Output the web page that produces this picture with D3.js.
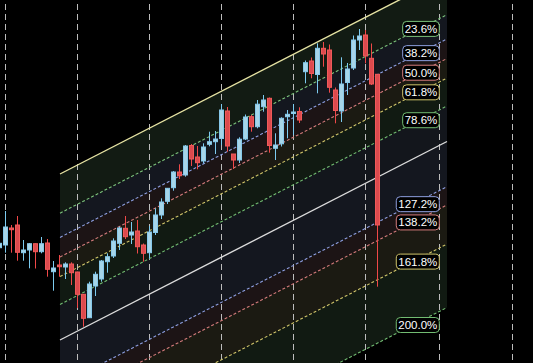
<!DOCTYPE html>
<html>
<head>
<meta charset="utf-8">
<script src="https://cdn.jsdelivr.net/npm/d3@7"></script>
<style>
  html, body { margin: 0; padding: 0; background: #000; overflow: hidden; }
  svg { display: block; }
</style>
</head>
<body>
<svg id="chart"></svg>
<script>
// candle prices, one entry per bar (oldest first)
const opens  = [111.53,111.80,113.50,113.80,111.03,111.30,111.93,111.13,112.00,109.13,109.80,109.60,109.90,109.10,106.87,104.53,
                107.70,108.40,110.13,110.70,111.97,113.47,112.80,113.20,111.80,111.03,113.05,114.80,116.17,117.53,119.10,118.80,
                121.75,120.60,120.20,121.87,122.13,122.45,125.20,120.90,120.30,122.40,124.63,123.63,125.63,126.47,121.47,121.92,
                124.63,124.95,125.15,129.13,130.20,128.85,131.47,131.30,127.30,125.20,128.05,129.50,132.30,132.80,130.47,128.87]
const highs  = [112.00,115.20,113.80,114.70,112.30,112.00,111.95,112.60,112.40,110.20,110.80,110.07,110.07,109.13,106.90,108.13,
                109.13,110.30,110.97,112.47,113.63,114.70,114.10,114.30,111.95,113.70,115.47,116.47,117.50,119.20,119.87,121.80,
                121.90,121.70,121.97,123.13,123.20,125.90,125.60,120.90,122.57,124.85,124.80,126.30,126.80,126.55,122.97,124.57,
                125.30,125.90,125.57,130.25,130.55,131.97,132.10,131.85,127.55,130.57,130.00,132.75,133.40,133.30,131.95,128.90]
const lows   = [111.50,111.03,111.03,110.23,110.23,109.47,109.45,110.97,108.63,107.23,108.63,108.40,107.80,105.50,103.63,104.50,
                106.70,108.13,109.03,110.50,111.30,112.40,111.90,110.95,110.13,110.45,112.80,114.40,115.90,117.23,118.40,118.63,
                119.70,119.37,119.97,121.67,120.90,121.80,121.13,119.40,120.00,122.30,123.13,123.47,125.13,121.03,120.30,121.65,
                122.47,122.80,124.00,127.97,128.47,126.97,129.63,127.03,123.97,124.10,126.80,129.30,131.30,129.97,127.80,107.63]
const closes = [111.97,113.60,113.33,111.07,111.30,111.93,111.13,111.93,109.37,109.50,109.63,109.90,109.03,106.87,104.47,107.90,
                108.87,110.20,110.63,112.20,113.50,112.63,113.10,111.63,110.97,113.10,114.80,116.10,117.47,119.10,118.73,121.70,
                120.40,120.03,121.60,122.13,122.40,125.30,121.70,120.30,122.38,124.60,123.63,125.88,126.30,121.75,121.80,124.47,
                124.87,125.10,124.30,130.03,128.95,131.47,130.90,127.57,125.25,127.90,129.40,132.30,132.70,130.70,127.90,113.80]

// fib channel: base line (level 0) through two bar positions, depth of level 1 below it
const channelIdx = [10.11, 74.61]
const channelTop = [118.9, 138.75]
const channelDepth = 16.6
const fibLevels = [0, 0.236, 0.382, 0.5, 0.618, 0.786, 1, 1.272, 1.382, 1.618, 2]

// vertical grid, in bar positions
const gridIdx = [1, 13, 25, 37, 49, 61, 73.2, 85.4]

const lineColors = ['#e6e3a3', '#7cc27c', '#8e9fe0', '#d47c7c', '#cfc46a', '#72bc72',
                    '#dcdcdc', '#8e9fe0', '#d47c7c', '#cfc46a', '#72bc72']
const bandColors = [null, '#121b13', '#14171f', '#1c1415', '#1b1a12', '#111a12',
                    '#13161c', '#14171f', '#1c1415', '#1b1a12', '#111a12']

const W = 533, H = 363

const svg = d3.select('#chart')
    .attr('width', W)
    .attr('height', H)

svg.append('rect')
    .attr('width', W)
    .attr('height', H)
    .attr('fill', '#000')

const x = d3.scaleLinear().domain([0, 88]).range([-0.67, 527.33])
const y = d3.scaleLinear().domain([100, 136.3]).range([H, 0])

// price of a level at a bar position
const topAt = i => channelTop[0] + (channelTop[1] - channelTop[0]) * (i - channelIdx[0]) / (channelIdx[1] - channelIdx[0])
const levelAt = (l, i) => topAt(i) - l * channelDepth

const [ia, ib] = channelIdx

// shaded bands between levels
svg.append('g')
    .selectAll('polygon')
    .data(fibLevels.slice(1).map((l, k) => ({ from: fibLevels[k], to: l, k: k + 1 })))
    .join('polygon')
        .attr('points', d => [
            [x(ia), y(levelAt(d.from, ia))],
            [x(ib), y(levelAt(d.from, ib))],
            [x(ib), y(levelAt(d.to, ib))],
            [x(ia), y(levelAt(d.to, ia))]
        ].map(p => p.join(',')).join(' '))
        .attr('fill', d => bandColors[d.k])

// vertical dashed grid
svg.append('g')
    .selectAll('line')
    .data(gridIdx)
    .join('line')
        .attr('x1', d => Math.round(x(d)) + 0.5)
        .attr('x2', d => Math.round(x(d)) + 0.5)
        .attr('y1', 0)
        .attr('y2', H)
        .attr('stroke', '#bdbdbd')
        .attr('stroke-width', 1)
        .attr('stroke-dasharray', '6,4')
        .attr('stroke-dashoffset', 6)

// level lines
svg.append('g')
    .selectAll('line')
    .data(fibLevels)
    .join('line')
        .attr('x1', x(ia))
        .attr('x2', x(ib))
        .attr('y1', d => y(levelAt(d, ia)))
        .attr('y2', d => y(levelAt(d, ib)))
        .attr('stroke', (d, i) => lineColors[i])
        .attr('stroke-width', d => (d === 0 || d === 1) ? 1.4 : 1.1)
        .attr('stroke-dasharray', d => (d === 0 || d === 1) ? null : '3,2')

// candles
const bars = opens.map((o, i) => ({ i, o, h: highs[i], l: lows[i], c: closes[i] }))
const up = d => d.c >= d.o

const candles = svg.append('g')
    .selectAll('g')
    .data(bars)
    .join('g')

candles.append('line')
    .attr('x1', d => Math.round(x(d.i)) + 0.5)
    .attr('x2', d => Math.round(x(d.i)) + 0.5)
    .attr('y1', d => y(d.h))
    .attr('y2', d => y(d.l))
    .attr('stroke', d => up(d) ? '#7ccbf0' : '#f04848')
    .attr('stroke-width', 1)

candles.append('rect')
    .attr('x', d => Math.round(x(d.i)) - 1.5)
    .attr('width', 4)
    .attr('y', d => y(Math.max(d.o, d.c)))
    .attr('height', d => Math.max(1, y(Math.min(d.o, d.c)) - y(Math.max(d.o, d.c))))
    .attr('fill', d => up(d) ? '#a7d5e8' : '#dc4a4e')
    .attr('stroke', d => up(d) ? '#86c8ea' : '#f05a5a')
    .attr('stroke-width', 1)

// level labels on the right end
const labelRight = x(ib) - 7.7
const labels = svg.append('g')
    .selectAll('g')
    .data(fibLevels.map((l, i) => ({ l, i })).filter(d => d.l !== 0 && d.l !== 1))
    .join('g')

labels.append('text')
    .text(d => (d.l * 100).toFixed(1) + '%')
    .attr('font-family', '"Liberation Sans", Arial, sans-serif')
    .attr('font-size', '11.5px')
    .attr('fill', '#fff')
    .attr('text-anchor', 'middle')

labels.each(function (d) {
    const g = d3.select(this)
    const tw = g.select('text').node().getComputedTextLength()
    const bw = tw + 4, bh = 15
    const left = labelRight - bw
    const lineY = y(levelAt(d.l, x.invert(left)))
    const top = lineY - 1 - bh
    g.insert('rect', 'text')
        .attr('x', left)
        .attr('y', top)
        .attr('width', bw)
        .attr('height', bh)
        .attr('rx', 4)
        .attr('fill', '#000')
        .attr('stroke', lineColors[d.i])
        .attr('stroke-width', 1)
    g.select('text')
        .attr('x', left + bw / 2)
        .attr('y', top + bh - 3.5)
})
</script>
</body>
</html>
